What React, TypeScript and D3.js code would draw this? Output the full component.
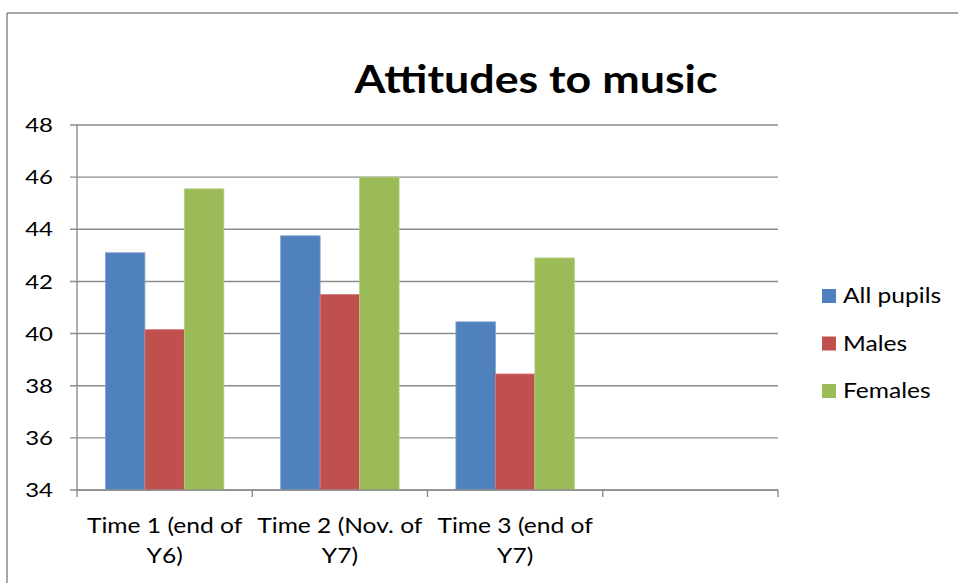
import React from "react";
import * as d3 from "d3";

const categories = ["Time 1 (end of|Y6)", "Time 2 (Nov. of|Y7)", "Time 3 (end of|Y7)", ""];
const seriesNames = ["All pupils", "Males", "Females"];
const allPupils = [43.1, 43.75, 40.45, null];
const males = [40.15, 41.5, 38.45, null];
const females = [45.55, 46.0, 42.9, null];
const yTicks = [34, 36, 38, 40, 42, 44, 46, 48];
const colors = ["#4F81BD", "#C0504D", "#9BBB59"];
const strokes = ["#7FA3D0", "#D27B79", "#B6CE84"];

const W = 958, H = 583;
const left = 77, right = 778, top = 125, bottom = 490;
const font = "Lato, 'Open Sans', sans-serif";
const sx = 1.2;

export default function App() {
  const series = [allPupils, males, females];
  const x0 = d3.scaleBand<number>().domain(d3.range(categories.length)).range([left, right]).paddingInner(0).paddingOuter(0);
  const x1 = d3.scaleBand<number>().domain([0, 1, 2]).range([0, x0.bandwidth()]).paddingInner(0).paddingOuter(0.72);
  const y = d3.scaleLinear().domain([34, 48]).range([bottom, top]);
  const tickXs = d3.range(categories.length + 1).map((i) => left + i * x0.bandwidth());

  return (
    <svg width={W} height={H} style={{ position: "absolute", left: 0, top: 0, background: "#fff" }}>
      <line x1={7} y1={13} x2={W} y2={13} stroke="#8a8a8a" strokeWidth={1.5} />
      <line x1={7} y1={13} x2={7} y2={H} stroke="#8a8a8a" strokeWidth={1.5} />
      <text x={536} y={93} textAnchor="middle" fontFamily={font} fontWeight="bold" fontSize={39} fill="#000" textLength={363} lengthAdjust="spacingAndGlyphs">Attitudes to music</text>
      {yTicks.map((t) => (
        <g key={t}>
          <line x1={70} x2={right} y1={y(t)} y2={y(t)} stroke="#8c8c8c" strokeWidth={1.4} />
          <g transform={`translate(53,${y(t)}) scale(${sx},1)`}>
            <text dy="0.36em" textAnchor="end" fontFamily={font} fontSize={20} fill="#000">{t}</text>
          </g>
        </g>
      ))}
      <line x1={left} x2={left} y1={top} y2={bottom} stroke="#8c8c8c" strokeWidth={1.4} />
      {series.map((vals, si) =>
        vals.map((v, ci) =>
          v == null ? null : (
            <rect key={`${si}-${ci}`} x={x0(ci)! + x1(si)!} width={x1.bandwidth()} y={y(v)} height={bottom - y(v)} fill={colors[si]} stroke={strokes[si]} strokeWidth={0.8} />
          )
        )
      )}
      <line x1={left} x2={right} y1={bottom} y2={bottom} stroke="#8c8c8c" strokeWidth={1.4} />
      {tickXs.map((tx, i) => (
        <line key={i} x1={tx} x2={tx} y1={bottom} y2={bottom + 7} stroke="#8c8c8c" strokeWidth={1.4} />
      ))}
      {categories.map((c, i) =>
        c
          ? c.split("|").map((line, li) => (
              <g key={`${i}-${li}`} transform={`translate(${x0(i)! + x0.bandwidth() / 2},${533 + li * 30}) scale(${sx},1)`}>
                <text textAnchor="middle" fontFamily={font} fontSize={20.5} fill="#000">{line}</text>
              </g>
            ))
          : null
      )}
      {seriesNames.map((n, i) => (
        <g key={n}>
          <rect x={822} y={289 + i * 47.5} width={14} height={14} fill={colors[i]} />
          <g transform={`translate(843,${303 + i * 47.5}) scale(${sx},1)`}>
            <text fontFamily={font} fontSize={20.5} fill="#000">{n}</text>
          </g>
        </g>
      ))}
    </svg>
  );
}
